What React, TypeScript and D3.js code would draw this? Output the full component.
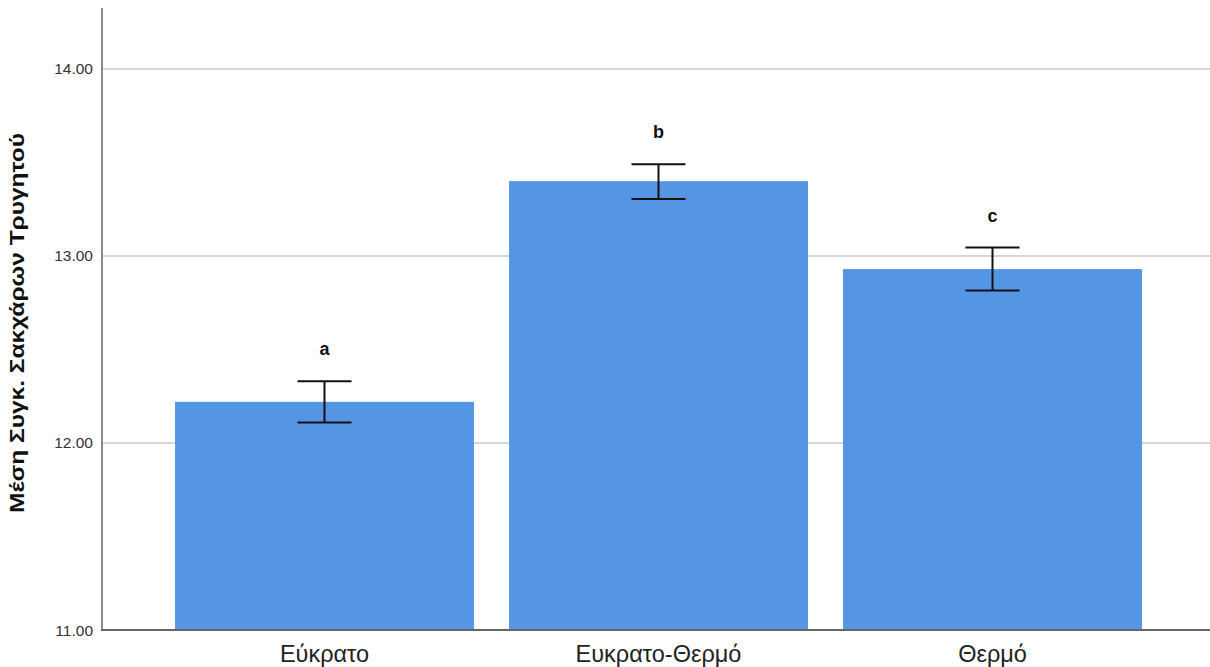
import React from "react";
import * as d3 from "d3";

const categories = ["Εύκρατο", "Ευκρατο-Θερμό", "Θερμό"];
const means = [12.22, 13.4, 12.93];
const errLow = [12.11, 13.305, 12.815];
const errHigh = [12.33, 13.49, 13.045];
const letters = ["a", "b", "c"];
const yTicks = [11, 12, 13, 14];
const yTitle = "Μέση Συγκ. Σακχάρων  Τρυγητού";

const W = 1210;
const H = 667;

export default function App() {
  const y = d3.scaleLinear().domain([11, 14.326]).range([630, 8]);
  const x = d3
    .scaleBand<string>()
    .domain(categories)
    .range([157.5, 1159.5])
    .paddingInner(0.105)
    .paddingOuter(0.0525);
  const bw = x.bandwidth();
  const cap = 27;
  return (
    <svg
      width={W}
      height={H}
      style={{ position: "absolute", left: 0, top: 0, background: "#fff" }}
      fontFamily="'Liberation Sans', Arial, sans-serif"
    >
      {yTicks.slice(1).map((t) => (
        <line key={t} x1={102} x2={W} y1={y(t)} y2={y(t)} stroke="#c8c8c8" strokeWidth={1.5} />
      ))}
      {categories.map((c, i) => (
        <rect key={c} x={x(c)} y={y(means[i])} width={bw} height={y(11) - y(means[i])} fill="#5596e4" />
      ))}
      {categories.map((c, i) => {
        const cx = (x(c) as number) + bw / 2;
        return (
          <g key={c} stroke="#111" strokeWidth={2}>
            <line x1={cx} x2={cx} y1={y(errHigh[i])} y2={y(errLow[i])} />
            <line x1={cx - cap} x2={cx + cap} y1={y(errHigh[i])} y2={y(errHigh[i])} />
            <line x1={cx - cap} x2={cx + cap} y1={y(errLow[i])} y2={y(errLow[i])} />
          </g>
        );
      })}
      {categories.map((c, i) => {
        const cx = (x(c) as number) + bw / 2;
        return (
          <text key={c} x={cx} y={y(errHigh[i]) - 26} textAnchor="middle" fontSize={18} fontWeight="bold" fill="#111">
            {letters[i]}
          </text>
        );
      })}
      <line x1={102} x2={102} y1={8} y2={631} stroke="#8a8a8a" strokeWidth={2} />
      <line x1={101} x2={W} y1={630} y2={630} stroke="#666" strokeWidth={2} />
      {yTicks.map((t) => (
        <text key={t} x={93} y={y(t) + 5.5} textAnchor="end" fontSize={15.5} fill="#333">
          {t.toFixed(2)}
        </text>
      ))}
      {categories.map((c) => (
        <text key={c} x={(x(c) as number) + bw / 2} y={662} textAnchor="middle" fontSize={23.5} fill="#222">
          {c}
        </text>
      ))}
      <text
        transform={`translate(24,323) rotate(-90)`}
        textAnchor="middle"
        fontSize={21}
        fontWeight="bold"
        fill="#111"
        textLength={380}
        lengthAdjust="spacingAndGlyphs"
      >
        {yTitle}
      </text>
    </svg>
  );
}
